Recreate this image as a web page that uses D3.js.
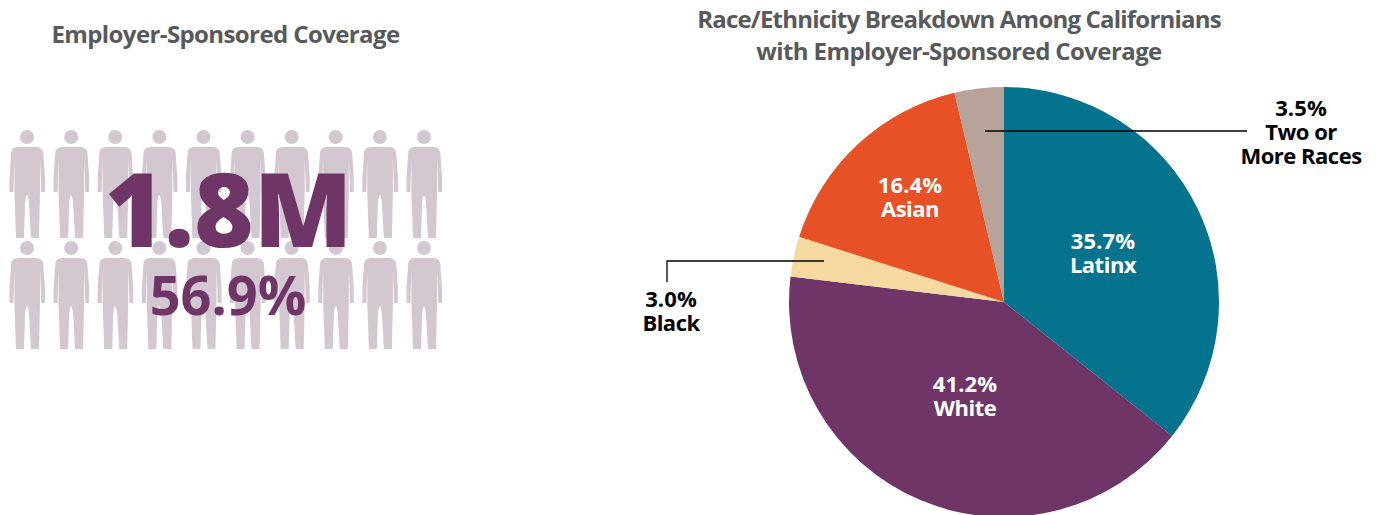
<!DOCTYPE html>
<html lang="en">
<head>
<meta charset="UTF-8">
<title>Employer-Sponsored Coverage</title>
<script src="https://cdn.jsdelivr.net/npm/d3@7"></script>
<style>
    html, body { margin: 0; padding: 0; background: white; overflow: hidden; }
    text { font-family: "Open Sans", sans-serif; text-anchor: middle; }
    .title { font-size: 24px; font-weight: 700; fill: #58595b; letter-spacing: -0.6px; }
    .inside { font-size: 22px; font-weight: 700; fill: white; letter-spacing: -0.5px; }
    .outside { font-size: 22px; font-weight: 700; fill: black; letter-spacing: -0.5px; }
</style>
</head>
<body>
<svg id="chart" width="1376" height="515"></svg>
<script>
const categories = ["Latinx", "White", "Black", "Asian", "Two or More Races"];
const shares = [35.7, 41.2, 3.0, 16.4, 3.5];
const sliceColors = ["#04738e", "#6f3566", "#f5d9a1", "#e85025", "#b8a39b"];
const peopleColumns = d3.range(10);
const peopleRows = d3.range(2);

const svg = d3.select("#chart");

// titles
svg.append("text").attr("class", "title").attr("x", 225.5).attr("y", 43).text("Employer-Sponsored Coverage");
svg.append("text").attr("class", "title").attr("x", 959).attr("y", 28).style("letter-spacing", "-0.8px").text("Race/Ethnicity Breakdown Among Californians");
svg.append("text").attr("class", "title").attr("x", 959).attr("y", 60).text("with Employer-Sponsored Coverage");

// people icons, origin at centre of the head
const personBody = "M-9,10 C-13.5,10.5 -15.5,12 -15.8,16 L-17.5,40 L-17.5,55 L-13.6,55 L-13.2,40 L-12.6,22 " +
    "L-12.6,55 L-11,101 L-3,101 L-2,66 Q0,50 2,66 L4,101 L12,101 L13,55 L13,22 " +
    "L13.8,40 L14.2,55 L18,55 L18,40 L16.3,16 C16,12 13.5,10.5 9,10 Z";
const x = d3.scaleLinear().domain([0, 9]).range([27, 424]);
const y = d3.scaleLinear().domain([0, 1]).range([137, 248]);
const people = svg.append("g");
peopleRows.forEach(r => peopleColumns.forEach(c => {
    const g = people.append("g").attr("transform", `translate(${x(c)},${y(r)})`).attr("fill", "#d3c7d1");
    g.append("circle").attr("r", 7);
    g.append("path").attr("d", personBody);
}));

svg.append("text").attr("x", 228.5).attr("y", 247).attr("font-size", 102).attr("font-weight", 800)
    .attr("fill", "#6f3566").text("1.8M");
svg.append("text").attr("x", 228).attr("y", 315).attr("font-size", 54).attr("font-weight", 700)
    .attr("fill", "#6f3566").text("56.9%");

// pie
const radius = 215;
const pie = d3.pie().sort(null).endAngle(2 * Math.PI * d3.sum(shares) / 100);
const arcs = pie(shares);
arcs[arcs.length - 1].endAngle = 2 * Math.PI;
const arc = d3.arc().innerRadius(0).outerRadius(radius);
const g = svg.append("g").attr("transform", "translate(1004,302)");
g.selectAll("path").data(arcs).join("path")
    .attr("d", arc)
    .attr("fill", (d, i) => sliceColors[i]);

// leader lines
const leader = d3.line();
svg.append("path").attr("d", leader([[985, 131], [1247, 131]])).attr("fill", "none").attr("stroke", "black").attr("stroke-width", 1.3);
svg.append("path").attr("d", leader([[667, 282], [667, 261], [824, 261]])).attr("fill", "none").attr("stroke", "black").attr("stroke-width", 1.3);

// slice labels
const labels = [
    ["inside", 1103, [`${shares[0].toFixed(1)}%`, categories[0]], 249],
    ["inside", 965, [`${shares[1].toFixed(1)}%`, categories[1]], 392],
    ["outside", 671, [`${shares[2].toFixed(1)}%`, categories[2]], 307],
    ["inside", 910, [`${shares[3].toFixed(1)}%`, categories[3]], 193],
    ["outside", 1301, [`${shares[4].toFixed(1)}%`, "Two or", "More Races"], 116]
];
labels.forEach(([cls, lx, lines, ly]) => {
    const t = svg.append("text").attr("class", cls).attr("x", lx).attr("y", ly);
    lines.forEach((line, i) => t.append("tspan").attr("x", lx).attr("dy", i ? 24 : 0)
        .style("letter-spacing", i ? null : "0.1px").text(line));
});
</script>
</body>
</html>
